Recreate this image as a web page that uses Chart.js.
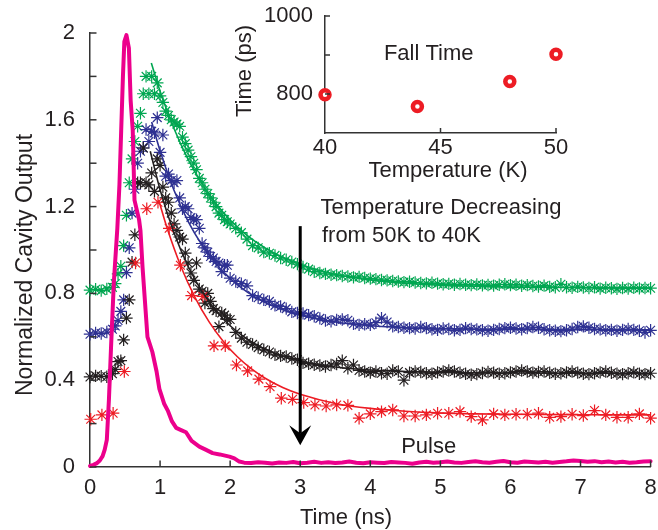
<!DOCTYPE html>
<html><head><meta charset="utf-8">
<script src="https://cdn.jsdelivr.net/npm/chart.js@4/dist/chart.umd.min.js"></script>
<style>
html,body{margin:0;padding:0;background:#fff;}
#wrap{position:relative;width:658px;height:530px;overflow:hidden;}
canvas{position:absolute;}
</style></head>
<body><div id="wrap">
<canvas id="main" width="658" height="530" style="left:0;top:0;width:658px;height:530px"></canvas>
<canvas id="inset" width="340" height="190" style="left:230px;top:0;width:340px;height:190px"></canvas>
</div>
<script>
// ---------- data ----------
const tDense = [0,0.08,0.16,0.24,0.32,0.36,0.40,0.44,0.48,0.52,0.56,0.60,0.64,0.68,0.72,0.76,0.80,0.84,0.88,0.92,0.96,1.00,1.04,1.08,1.12,1.16,1.20,1.24,1.28,1.32,1.36,1.40,1.44,1.48,1.52,1.56,1.60,1.64,1.68,1.72,1.76,1.80,1.84,1.88,1.92,1.96,2.00,
2.08,2.16,2.24,2.32,2.40,2.48,2.56,2.64,2.72,2.80,2.88,2.96,
3.04,3.12,3.20,3.28,3.36,3.44,3.52,3.60,3.68,3.76,3.84,3.92,
4.00,4.08,4.16,4.24,4.32,4.40,4.48,4.56,4.64,4.72,4.80,4.88,4.96,
5.04,5.12,5.20,5.28,5.36,5.44,5.52,5.60,5.68,5.76,5.84,5.92,
6.00,6.08,6.16,6.24,6.32,6.40,6.48,6.56,6.64,6.72,6.80,6.88,6.96,
7.04,7.12,7.20,7.28,7.36,7.44,7.52,7.60,7.68,7.76,7.84,7.92,8.00];

const green50K = [0.815,0.819,0.813,0.821,0.828,0.845,0.89,0.925,1.02,1.16,1.31,1.42,1.50,1.57,1.63,1.72,1.80,1.72,1.80,1.72,1.77,1.71,1.68,1.64,1.62,1.60,1.59,1.58,1.57,1.52,1.49,1.46,1.43,1.40,1.37,1.33,1.31,1.28,1.26,1.24,1.22,1.20,1.17,1.16,1.14,1.13,1.12,
1.10,1.08,1.05,1.02,1.01,0.99,0.985,0.975,0.963,0.955,0.945,0.935,
0.922,0.912,0.90,0.894,0.89,0.886,0.884,0.88,0.878,0.874,0.876,0.871,
0.868,0.866,0.862,0.86,0.857,0.855,0.852,0.854,0.85,0.848,0.846,0.849,0.845,
0.842,0.844,0.84,0.843,0.84,0.838,0.841,0.837,0.839,0.836,0.84,0.842,
0.838,0.84,0.835,0.838,0.834,0.832,0.836,0.83,0.828,0.842,0.828,0.826,0.83,
0.827,0.825,0.828,0.822,0.826,0.824,0.821,0.825,0.822,0.826,0.823,0.825,0.824];

const blue48K = [0.612,0.618,0.615,0.622,0.635,0.65,0.675,0.717,0.77,0.896,1.01,1.17,1.28,1.40,1.455,1.47,1.555,1.50,1.547,1.54,1.61,1.45,1.53,1.34,1.35,1.32,1.31,1.32,1.24,1.19,1.20,1.19,1.15,1.14,1.14,1.10,1.03,1.01,0.99,0.97,0.963,0.947,0.94,0.90,0.93,0.93,0.87,
0.855,0.845,0.835,0.79,0.78,0.77,0.763,0.745,0.74,0.73,0.715,0.71,
0.708,0.70,0.695,0.685,0.675,0.672,0.678,0.68,0.676,0.66,0.655,0.658,
0.655,0.665,0.686,0.668,0.648,0.645,0.642,0.64,0.638,0.645,0.64,0.635,0.632,
0.638,0.636,0.63,0.632,0.64,0.636,0.634,0.63,0.628,0.632,0.636,0.64,
0.642,0.638,0.635,0.64,0.645,0.642,0.635,0.63,0.628,0.626,0.63,0.636,0.645,
0.648,0.642,0.636,0.634,0.63,0.632,0.628,0.632,0.636,0.632,0.628,0.62,0.63];

const black44K = [0.415,0.42,0.418,0.416,0.43,0.45,0.486,0.49,0.586,0.686,0.77,0.944,1.07,1.31,1.31,1.47,1.31,1.30,1.355,1.27,1.42,1.39,1.29,1.24,1.22,1.17,1.12,1.09,1.06,1.05,0.986,0.94,0.894,0.86,0.94,0.82,0.81,0.755,0.80,0.763,0.73,0.72,0.647,0.71,0.70,0.68,0.68,
0.62,0.594,0.575,0.565,0.55,0.54,0.53,0.517,0.512,0.509,0.50,0.494,
0.48,0.476,0.471,0.468,0.463,0.47,0.475,0.49,0.455,0.47,0.445,0.44,
0.435,0.44,0.432,0.43,0.445,0.44,0.40,0.435,0.44,0.438,0.432,0.43,0.436,
0.44,0.445,0.44,0.434,0.43,0.425,0.428,0.433,0.438,0.435,0.43,0.432,
0.436,0.44,0.445,0.44,0.435,0.438,0.44,0.434,0.43,0.432,0.436,0.44,0.435,
0.43,0.428,0.432,0.436,0.44,0.434,0.43,0.428,0.432,0.436,0.43,0.428,0.432];

const tRed = [0.01,0.17,0.33,0.49,0.65,0.81,0.97,1.13,1.29,1.45,1.61,1.77,1.93,2.09,2.25,2.41,2.57,2.73,2.89,3.05,3.21,3.37,3.52,3.68,3.84,4.00,4.16,4.32,4.48,4.64,4.80,4.96,5.12,5.28,5.44,5.60,5.76,5.92,6.08,6.24,6.40,6.56,6.72,6.88,7.04,7.20,7.36,7.52,7.68,7.84,8.00];
const red40K = [0.22,0.24,0.248,0.44,0.94,1.19,1.22,1.10,0.93,0.79,0.786,0.558,0.558,0.47,0.443,0.405,0.37,0.317,0.312,0.297,0.286,0.281,0.286,0.284,0.225,0.245,0.255,0.263,0.235,0.235,0.240,0.248,0.248,0.255,0.232,0.217,0.245,0.240,0.243,0.243,0.248,0.229,0.232,0.243,0.237,0.260,0.240,0.229,0.229,0.245,0.225];

const tFitGreen = [0.875,1.0,1.2,1.4,1.6,1.8,2.0,2.25,2.5,2.75,3.0,3.5,4.0,4.5,5.0,5.5,6.0,6.5,7.0,7.5,8.0];
const fitGreen  = [1.862,1.732,1.559,1.418,1.305,1.213,1.138,1.065,1.009,0.966,0.933,0.888,0.862,0.847,0.838,0.833,0.829,0.828,0.827,0.826,0.825];
const tFitBlue  = [0.88,1.0,1.2,1.4,1.6,1.8,2.0,2.25,2.5,2.75,3.0,3.5,4.0,4.5,5.0,5.5,6.0,6.5,7.0,7.5,8.0];
const fitBlue   = [1.590,1.457,1.274,1.132,1.022,0.935,0.868,0.805,0.758,0.725,0.700,0.668,0.651,0.642,0.638,0.635,0.634,0.633,0.633,0.632,0.632];
const tFitBlack = [0.86,1.0,1.2,1.4,1.6,1.8,2.0,2.25,2.5,2.75,3.0,3.5,4.0,4.5,5.0,5.5,6.0,7.0,8.0];
const fitBlack  = [1.455,1.278,1.078,0.925,0.808,0.719,0.651,0.588,0.543,0.512,0.489,0.461,0.447,0.440,0.436,0.434,0.433,0.432,0.432];
const tFitRed   = [0.98,1.1,1.3,1.5,1.7,1.9,2.1,2.3,2.5,2.75,3.0,3.5,4.0,4.5,5.0,5.5,6.0,6.5,7.0,7.5,8.0];
const fitRed    = [1.230,1.101,0.922,0.781,0.669,0.580,0.509,0.453,0.409,0.366,0.335,0.293,0.270,0.257,0.249,0.245,0.243,0.242,0.241,0.240,0.240];

const tPulse = [0,0.05,0.10,0.14,0.18,0.21,0.24,0.27,0.30,0.34,0.39,0.42,0.445,0.47,0.49,0.52,0.555,0.58,0.61,0.635,0.70,0.72,0.75,0.82,0.89,0.95,0.99,1.02,1.06,1.11,1.17,1.23,1.30,1.37,1.45,1.56,1.65,1.75,1.85,1.99,2.06,2.13,2.20,
2.3,2.4,2.5,2.6,2.7,2.8,2.9,3.0,3.1,3.2,3.3,3.4,3.5,3.6,3.7,3.8,3.9,4.0,4.1,4.2,4.3,4.4,4.5,4.6,4.7,4.8,4.9,5.0,5.1,5.2,5.3,5.4,5.5,5.6,5.7,5.8,5.9,6.0,6.1,6.2,6.3,6.4,6.5,6.6,6.7,6.8,6.9,7.0,7.1,7.2,7.3,7.4,7.5,7.6,7.7,7.8,7.9,8.0];
const pulse = [0.005,0.01,0.018,0.03,0.05,0.08,0.125,0.31,0.55,0.85,1.10,1.30,1.55,1.80,1.96,1.99,1.93,1.69,1.55,1.23,1.14,1.09,0.92,0.60,0.53,0.44,0.36,0.33,0.29,0.26,0.21,0.18,0.17,0.16,0.12,0.094,0.08,0.064,0.058,0.048,0.04,0.025,0.02,
0.018,0.022,0.02,0.016,0.021,0.019,0.023,0.017,0.02,0.024,0.019,0.022,0.018,0.021,0.025,0.02,0.017,0.022,0.02,0.018,0.023,0.021,0.019,0.015,0.021,0.024,0.02,0.022,0.025,0.021,0.019,0.023,0.026,0.022,0.02,0.024,0.028,0.022,0.02,0.025,0.023,0.021,0.024,0.02,0.023,0.026,0.03,0.028,0.024,0.027,0.022,0.025,0.021,0.024,0.02,0.022,0.025,0.027];

const xTicksMain = [0,1,2,3,4,5,6,7,8];
const tempK = [40,44,48,50];
const fallTimePs = [798,768,832,902];

// ---------- styles ----------
const GREEN='#00a651', BLUE='#2e3192', BLACK='#231f20', RED='#ed1c24', MAGENTA='#ec008c';
const TEXT='#231f20', AXIS='#333333';
const FONT='"Liberation Sans", Arial, Helvetica, sans-serif';

function pts(xs, ys){ const n=Math.min(xs.length, ys.length); const o=[]; for(let i=0;i<n;i++) o.push({x:xs[i], y:ys[i]}); return o; }

function markers(label, xs, ys, color){
  return {label, data:pts(xs,ys), showLine:false, pointStyle:'star', pointRadius:6.2,
    pointBorderWidth:1.2, borderColor:color, backgroundColor:color, clip:false};
}
function fit(label, xs, ys, color){
  return {label, data:pts(xs,ys), showLine:true, pointRadius:0, borderWidth:1.6,
    borderColor:color, cubicInterpolationMode:'monotone', clip:false};
}

// annotation anchors (data coordinates)
const arrowX = 3, arrowTop = 1.11, arrowTip = 0.10;
const noteLines = [
  {text:'Temperature Decreasing', x:3.29, y:1.167},
  {text:'from 50K to 40K', x:3.31, y:1.038},
  {text:'Pulse', x:4.44, y:0.065}
];

const mainDeco = {
  id:'mainDeco',
  afterDraw(chart){
    const {ctx, chartArea:a, scales:{x,y}} = chart;
    ctx.save();
    ctx.strokeStyle = AXIS; ctx.lineWidth = 1.5;
    y.ticks.forEach(t=>{ const py=y.getPixelForValue(t.value); ctx.beginPath(); ctx.moveTo(a.left,py); ctx.lineTo(a.left+6.5,py); ctx.stroke(); });
    x.ticks.forEach(t=>{ if(t.value===0) return; const px=x.getPixelForValue(t.value); ctx.beginPath(); ctx.moveTo(px,a.bottom); ctx.lineTo(px,a.bottom-6.5); ctx.stroke(); });
    // arrow
    const ax=x.getPixelForValue(arrowX), at=y.getPixelForValue(arrowTop), ap=y.getPixelForValue(arrowTip);
    ctx.strokeStyle='#000'; ctx.fillStyle='#000'; ctx.lineWidth=3;
    ctx.beginPath(); ctx.moveTo(ax,at); ctx.lineTo(ax,ap-12); ctx.stroke();
    ctx.beginPath(); ctx.moveTo(ax,ap); ctx.lineTo(ax-11,ap-20); ctx.lineTo(ax,ap-12); ctx.lineTo(ax+11,ap-20); ctx.closePath(); ctx.fill();
    // notes
    ctx.fillStyle=TEXT; ctx.font='22px '+FONT; ctx.textAlign='left'; ctx.textBaseline='alphabetic';
    noteLines.forEach(n=>ctx.fillText(n.text, x.getPixelForValue(n.x), y.getPixelForValue(n.y)));
    // axis titles
    ctx.textAlign='center';
    ctx.fillText('Time (ns)', a.left+256, chart.height-6);
    ctx.save();
    ctx.translate(a.left-58.5, (a.top+a.bottom)/2+15);
    ctx.rotate(-Math.PI/2);
    ctx.font='23px '+FONT;
    ctx.fillText('Normalized Cavity Output', 0, 0);
    ctx.restore();
    ctx.restore();
  }
};

new Chart(document.getElementById('main'), {
  type:'scatter',
  data:{datasets:[
    {label:'Pulse', data:pts(tPulse,pulse), showLine:true, pointRadius:0, borderWidth:4, borderColor:MAGENTA, borderJoinStyle:'round', borderCapStyle:'round', tension:0, clip:false},
    fit('Fit 50K', tFitGreen, fitGreen, GREEN),
    fit('Fit 48K', tFitBlue, fitBlue, BLUE),
    fit('Fit 44K', tFitBlack, fitBlack, BLACK),
    fit('Fit 40K', tFitRed, fitRed, RED),
    markers('40K', tRed, red40K, RED),
    markers('44K', tDense, black44K, BLACK),
    markers('48K', tDense, blue48K, BLUE),
    markers('50K', tDense, green50K, GREEN)
  ]},
  options:{
    responsive:false, animation:false, events:[],
    layout:{padding:{top:33,right:4,left:0,bottom:0}},
    plugins:{legend:{display:false}, tooltip:{enabled:false}},
    scales:{
      x:{type:'linear', min:0, max:8,
        afterBuildTicks(s){ s.ticks = xTicksMain.map(v=>({value:v})); },
        ticks:{autoSkip:false, maxRotation:0, padding:8, color:TEXT, font:{family:FONT,size:22}, callback:v=>String(v)},
        grid:{display:false, drawTicks:false}, border:{display:true, color:AXIS, width:1.5},
        afterFit(s){ s.height=63; s.paddingLeft=0; s.paddingRight=0; }},
      y:{min:0, max:2,
        ticks:{stepSize:0.2, autoSkip:false, padding:15, color:TEXT, font:{family:FONT,size:22},
          callback:v=>{ const k=Math.round(v*10); if(k%4!==0) return ''; return k===0?'0':(k===20?'2':(k/10).toFixed(1)); }},
        grid:{display:false, drawTicks:false}, border:{display:true, color:AXIS, width:1.5},
        afterFit(s){ s.width=90; s.paddingTop=0; s.paddingBottom=0; }}
    }
  },
  plugins:[mainDeco]
});

// ---------- inset ----------
const fallNote = {text:'Fall Time', x:42.55, y:887};
const insetDeco = {
  id:'insetDeco',
  afterDraw(chart){
    const {ctx, chartArea:a, scales:{x,y}} = chart;
    ctx.save();
    ctx.strokeStyle=AXIS; ctx.lineWidth=1.5;
    y.ticks.forEach(t=>{ if(t.value===700) return; const py=y.getPixelForValue(t.value); ctx.beginPath(); ctx.moveTo(a.left,py); ctx.lineTo(a.left+5,py); ctx.stroke(); });
    x.ticks.forEach(t=>{ if(t.value===40) return; const px=x.getPixelForValue(t.value); ctx.beginPath(); ctx.moveTo(px,a.bottom); ctx.lineTo(px,a.bottom-5); ctx.stroke(); });
    ctx.fillStyle=TEXT; ctx.font='22px '+FONT; ctx.textAlign='left'; ctx.textBaseline='alphabetic';
    ctx.fillText(fallNote.text, x.getPixelForValue(fallNote.x), y.getPixelForValue(fallNote.y));
    ctx.textAlign='center';
    ctx.fillText('Temperature (K)', a.left+123, a.bottom+43.5);
    ctx.save();
    ctx.translate(a.left-74, (a.top+a.bottom)/2-3.5);
    ctx.rotate(-Math.PI/2);
    ctx.fillText('Time (ps)', 0, 0);
    ctx.restore();
    ctx.restore();
  }
};

new Chart(document.getElementById('inset'), {
  type:'scatter',
  data:{datasets:[{label:'Fall Time', data:pts(tempK,fallTimePs), showLine:false, pointStyle:'circle',
    pointRadius:4.5, pointBorderWidth:4.5, borderColor:RED, backgroundColor:'#ffffff', clip:false}]},
  options:{
    responsive:false, animation:false, events:[],
    layout:{padding:{top:16,right:14,left:0,bottom:0}},
    plugins:{legend:{display:false}, tooltip:{enabled:false}},
    scales:{
      x:{type:'linear', min:40, max:50,
        ticks:{stepSize:5, autoSkip:false, maxRotation:0, padding:2, color:TEXT, font:{family:FONT,size:22}},
        grid:{display:false, drawTicks:false}, border:{display:true, color:AXIS, width:1.5},
        afterFit(s){ s.height=57; s.paddingLeft=0; s.paddingRight=0; }},
      y:{min:700, max:1000,
        ticks:{stepSize:100, autoSkip:false, padding:12, color:TEXT, font:{family:FONT,size:22},
          callback:v=>(v===800||v===1000)?String(v):''},
        grid:{display:false, drawTicks:false}, border:{display:true, color:AXIS, width:1.5},
        afterFit(s){ s.width=95; s.paddingTop=0; s.paddingBottom=0; }}
    }
  },
  plugins:[insetDeco]
});
</script>
</body></html>
